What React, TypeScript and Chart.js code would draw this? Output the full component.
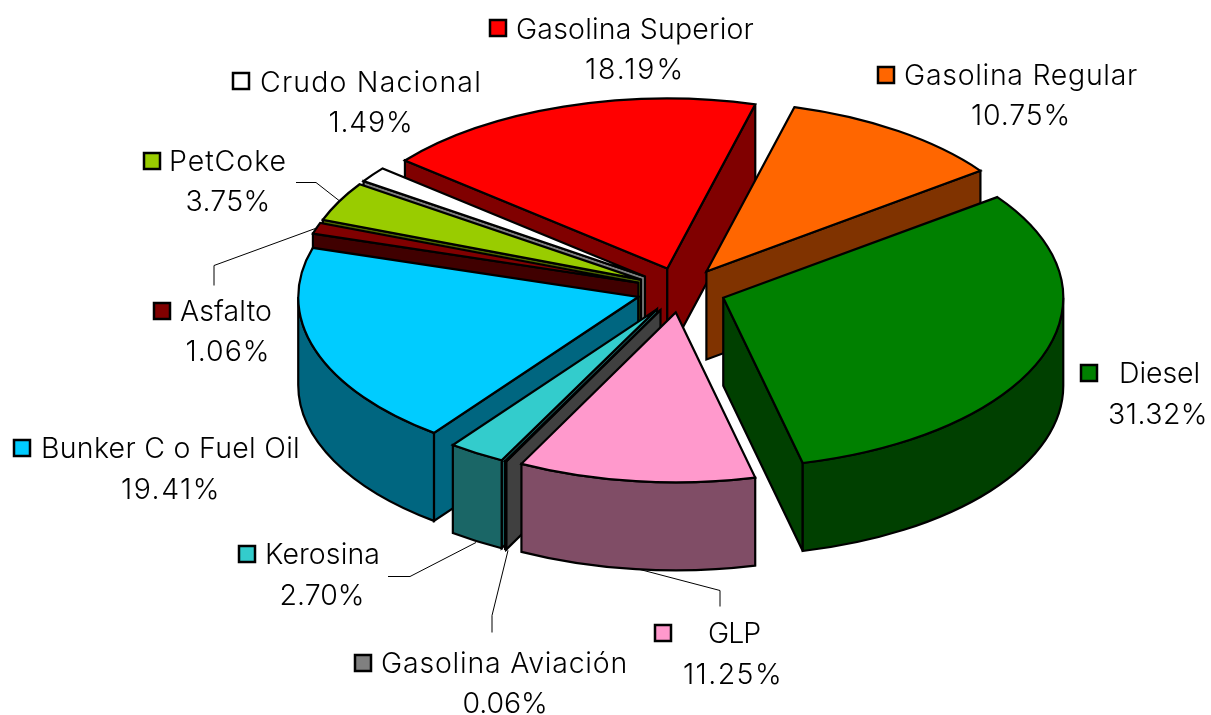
import React, { useEffect, useRef } from "react";
import { Chart, registerables } from "chart.js";

Chart.register(...registerables);

const categories = ["Gasolina Superior", "Gasolina Regular", "Diesel", "GLP", "Gasolina Aviación", "Kerosina", "Bunker C o Fuel Oil", "Asfalto", "PetCoke", "Crudo Nacional"];
const shares = [18.19, 10.75, 31.32, 11.25, 0.06, 2.7, 19.41, 1.06, 3.75, 1.49];
const sliceColors = ["#FF0000", "#FF6600", "#008000", "#FF99CC", "#808080", "#33CCCC", "#00CCFF", "#800000", "#99CC00", "#FFFFFF"];
const wallColors = ["#800000", "#803300", "#004000", "#804D66", "#404040", "#1A6666", "#006680", "#400000", "#4D6600", "#808080"];

const FONT = '300 28.5px "Inter"';
const RADIUS = 340;
const TILT = 0.5;
const DEPTH = 88;
const EXPLODE = 45;

// key x, key y (top), name left x, name centre y, name width, percent centre x, percent centre y, percent width
const labelLayout = [
  [490, 20, 516, 30, 238, 635, 70, 100],
  [878, 67, 904, 76, 234, 1021, 116, 100],
  [1081, 365, 1119, 374, 81, 1158, 415, 100],
  [655, 625, 708, 634, 52, 733, 675, 100],
  [355, 655, 381, 664, 247, 505, 704, 85],
  [239, 546, 265, 555, 115, 322, 596, 85],
  [14, 440, 41, 449, 259, 171, 490, 100],
  [154, 303, 180, 312, 92, 228, 352, 85],
  [144, 153, 169, 162, 118, 228, 202, 85],
  [233, 73, 260, 83, 222, 371, 123, 85],
];
const leaderLines = [
  [[296, 182], [316, 182], [339, 200]],
  [[214, 285], [214, 265], [318, 227]],
  [[388, 576], [410, 576], [476, 542]],
  [[492, 632], [492, 615], [508, 550]],
  [[720, 606], [720, 590], [640, 569]],
];

function fitText(ctx: CanvasRenderingContext2D, text: string, x: number, y: number, width: number) {
  (ctx as any).letterSpacing = "0px";
  const natural = ctx.measureText(text).width;
  (ctx as any).letterSpacing = (width - natural) / text.length + "px";
  ctx.fillText(text, x, y);
}

const pie3d = {
  id: "pie3d",
  beforeDatasetsDraw(chart: any) {
    const ctx = chart.ctx;
    const arcs = chart.getDatasetMeta(0).data as any[];
    const items = arcs.map((arc, i) => {
      const mid = (arc.startAngle + arc.endAngle) / 2;
      return { arc, i, mid, ax: arc.x + Math.cos(mid) * EXPLODE, ay: arc.y + Math.sin(mid) * EXPLODE * TILT };
    });
    items.sort((a, b) => Math.sin(a.mid) - Math.sin(b.mid));
    ctx.save();
    ctx.lineWidth = 2.2;
    ctx.lineJoin = "miter";
    ctx.miterLimit = 3;
    ctx.strokeStyle = "#000";
    for (const { arc, i, ax, ay } of items) {
      const r = arc.outerRadius;
      const a0 = arc.startAngle;
      const a1 = arc.endAngle;
      const px = (t: number) => ax + Math.cos(t) * r;
      const py = (t: number) => ay + Math.sin(t) * r * TILT;
      ctx.fillStyle = wallColors[i];
      const cuts: number[] = [];
      if (Math.cos(a0) < 0) cuts.push(a0);
      if (Math.cos(a1) > 0) cuts.push(a1);
      for (const t of cuts) {
        ctx.beginPath();
        ctx.moveTo(ax, ay);
        ctx.lineTo(px(t), py(t));
        ctx.lineTo(px(t), py(t) + DEPTH);
        ctx.lineTo(ax, ay + DEPTH);
        ctx.closePath();
        ctx.fill();
        ctx.stroke();
      }
      for (const shift of [-2 * Math.PI, 0, 2 * Math.PI]) {
        const from = Math.max(a0, shift);
        const to = Math.min(a1, shift + Math.PI);
        if (to <= from) continue;
        ctx.beginPath();
        ctx.save();
        ctx.translate(ax, ay);
        ctx.scale(1, TILT);
        ctx.arc(0, 0, r, from, to);
        ctx.restore();
        ctx.save();
        ctx.translate(ax, ay + DEPTH);
        ctx.scale(1, TILT);
        ctx.arc(0, 0, r, to, from, true);
        ctx.restore();
        ctx.closePath();
        ctx.fill();
        ctx.stroke();
      }
      ctx.beginPath();
      ctx.save();
      ctx.translate(ax, ay);
      ctx.scale(1, TILT);
      ctx.moveTo(0, 0);
      ctx.arc(0, 0, r, a0, a1);
      ctx.closePath();
      ctx.restore();
      ctx.fillStyle = sliceColors[i];
      ctx.fill();
      ctx.stroke();
    }
    ctx.restore();
  },
  beforeDatasetDraw() {
    return false;
  },
  afterDraw(chart: any) {
    const ctx = chart.ctx;
    ctx.save();
    ctx.strokeStyle = "#000";
    ctx.lineWidth = 1;
    for (const line of leaderLines) {
      ctx.beginPath();
      line.forEach(([x, y], j) => (j ? ctx.lineTo(x, y + 0.5) : ctx.moveTo(x, y + 0.5)));
      ctx.stroke();
    }
    ctx.font = FONT;
    ctx.textBaseline = "middle";
    categories.forEach((name, i) => {
      const [kx, ky, nx, ny, nw, px, py, pw] = labelLayout[i];
      ctx.fillStyle = sliceColors[i];
      ctx.lineWidth = 2.5;
      ctx.fillRect(kx, ky, 16, 16);
      ctx.strokeRect(kx, ky, 16, 16);
      ctx.fillStyle = "#000";
      ctx.textAlign = "left";
      fitText(ctx, name, nx, ny, nw);
      fitText(ctx, shares[i].toFixed(2) + "%", px - pw / 2, py, pw);
    });
    ctx.restore();
  },
};

export default function App() {
  const ref = useRef<HTMLCanvasElement>(null);
  useEffect(() => {
    const chart = new Chart(ref.current!, {
      type: "pie",
      data: { labels: categories, datasets: [{ data: shares, backgroundColor: sliceColors, borderWidth: 0 }] },
      options: {
        responsive: false,
        animation: false,
        rotation: -50.5,
        radius: RADIUS,
        layout: { padding: { left: 151, right: 0, top: 0, bottom: 135 } },
        plugins: { legend: { display: false }, tooltip: { enabled: false } },
      } as any,
      plugins: [pie3d as any],
    });
    return () => chart.destroy();
  }, []);
  return (
    <div style={{ position: "fixed", left: 0, top: 0, width: 1211, height: 715, background: "#fff" }}>
      <canvas ref={ref} width={1211} height={715} style={{ display: "block" }} />
    </div>
  );
}
